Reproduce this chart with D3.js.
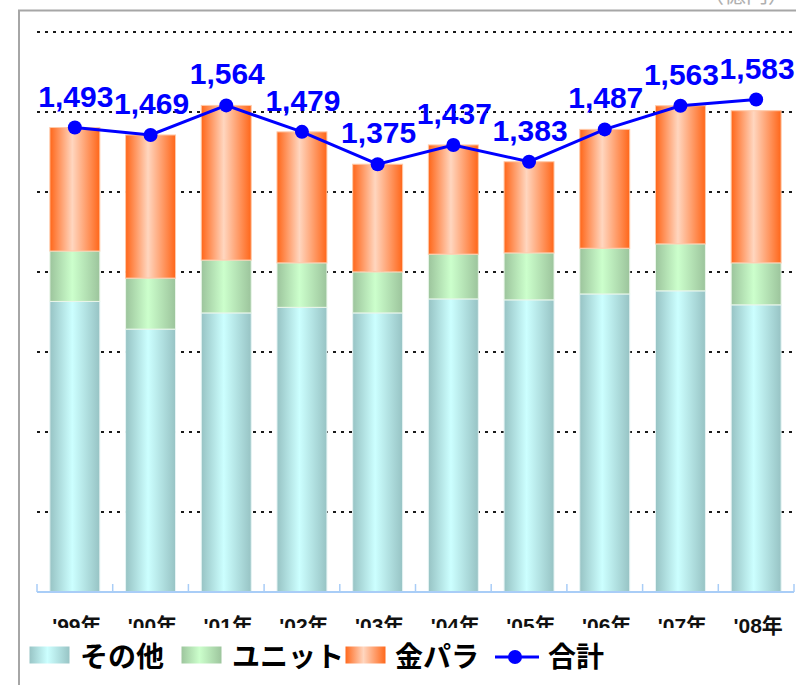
<!DOCTYPE html>
<html>
    <head>
        <meta charset="utf-8">
        <title></title>
        <style>
            body { margin: 0; background: #fff; }
            svg { display: block; }
        </style>
    </head>
    <body>
        <script src="https://cdnjs.cloudflare.com/ajax/libs/d3/7.8.5/d3.min.js" charset="utf-8"></script>
        <script>

        var categories = ["'99年", "'00年", "'01年", "'02年", "'03年", "'04年", "'05年", "'06年", "'07年", "'08年"];
        var otherValues = [934, 845, 897, 915, 897, 942, 939, 958, 968, 923];   // その他
        var unitValues  = [162, 164, 170, 143, 132, 144, 151, 147, 151, 135];   // ユニット
        var goldValues  = [397, 460, 497, 421, 346, 351, 293, 382, 444, 489];   // 金パラ
        var totalValues = [1493, 1469, 1564, 1479, 1375, 1437, 1383, 1487, 1563, 1583]; // 合計
        var seriesNames = ["その他", "ユニット", "金パラ", "合計"];

        var w = 796;
        var h = 685;
        var jp = "'Noto Sans CJK JP', sans-serif";

        var svg = d3.select("body")
                    .append("svg")
                    .attr("width", w)
                    .attr("height", h);

        // gradients for the cylinder-ish bars
        var defs = svg.append("defs");
        var grads = [
            {id: "gOther", edge: "#97c3c4", mid: "#ccffff"},
            {id: "gUnit",  edge: "#9cc49c", mid: "#ccffcc"},
            {id: "gGold",  edge: "#ff6619", mid: "#ffd6bf"}
        ];
        grads.forEach(function(g) {
            var lg = defs.append("linearGradient")
                .attr("id", g.id)
                .attr("x1", "0%").attr("x2", "100%")
                .attr("y1", "0%").attr("y2", "0%");
            lg.append("stop").attr("offset", "0%").attr("stop-color", g.edge);
            lg.append("stop").attr("offset", "45%").attr("stop-color", g.mid);
            lg.append("stop").attr("offset", "100%").attr("stop-color", g.edge);
        });

        // frame (cropped)
        svg.append("path")
            .attr("d", "M19,685 L19,10.5 L796,10.5")
            .attr("fill", "none")
            .attr("stroke", "#a6a6a6")
            .attr("stroke-width", 2);

        // unit label, mostly above the visible area like in the source
        svg.append("text")
            .attr("x", 790)
            .attr("y", 2)
            .attr("text-anchor", "end")
            .attr("font-family", jp)
            .attr("font-size", "22px")
            .attr("fill", "#b0b0b0")
            .text("（億円）");

        var xScale = d3.scaleBand()
                       .domain(categories)
                       .range([37, 794])
                       .paddingInner(0.34)
                       .paddingOuter(0.17);

        var yMax = 1800;
        var yScale = d3.scaleLinear()
                       .domain([0, yMax])
                       .range([592, 32]);

        // dotted gridlines
        var gridValues = d3.range(1, 8).map(function(i) { return yMax * i / 7; });
        svg.selectAll("line.grid")
            .data(gridValues)
            .enter()
            .append("line")
            .attr("class", "grid")
            .attr("x1", 37)
            .attr("x2", w)
            .attr("y1", function(d) { return yScale(d); })
            .attr("y2", function(d) { return yScale(d); })
            .attr("stroke", "#1a1a1a")
            .attr("stroke-width", 2)
            .attr("stroke-dasharray", "3,5");

        // stacked bars
        var stackData = categories.map(function(c, i) {
            return {cat: c, other: otherValues[i], unit: unitValues[i], gold: goldValues[i]};
        });
        var stack = d3.stack().keys(["other", "unit", "gold"]);
        var fills = {other: "url(#gOther)", unit: "url(#gUnit)", gold: "url(#gGold)"};
        var strokes = {other: "#e6f4f4", unit: "#eaf6ea", gold: "#ffc9a8"};

        svg.selectAll("g.series")
            .data(stack(stackData))
            .enter()
            .append("g")
            .attr("class", "series")
            .each(function(s) {
                d3.select(this).selectAll("rect")
                    .data(s)
                    .enter()
                    .append("rect")
                    .attr("x", function(d) { return xScale(d.data.cat); })
                    .attr("y", function(d) { return yScale(d[1]); })
                    .attr("width", xScale.bandwidth())
                    .attr("height", function(d) { return yScale(d[0]) - yScale(d[1]); })
                    .attr("fill", fills[s.key])
                    .attr("stroke", strokes[s.key])
                    .attr("stroke-width", 1);
            });

        // axis line with ticks at category boundaries
        svg.append("line")
            .attr("x1", 37).attr("x2", 794)
            .attr("y1", 592).attr("y2", 592)
            .attr("stroke", "#a9cdf7")
            .attr("stroke-width", 2);
        svg.selectAll("line.tick")
            .data(d3.range(categories.length + 1))
            .enter()
            .append("line")
            .attr("class", "tick")
            .attr("x1", function(i) { return xScale.range()[0] + i * xScale.step(); })
            .attr("x2", function(i) { return xScale.range()[0] + i * xScale.step(); })
            .attr("y1", 584).attr("y2", 592)
            .attr("stroke", "#a9cdf7")
            .attr("stroke-width", 1.5);

        // category labels
        svg.selectAll("text.cat")
            .data(categories)
            .enter()
            .append("text")
            .attr("class", "cat")
            .attr("x", function(d) { return xScale(d) + xScale.bandwidth() / 2 + 2; })
            .attr("y", 633)
            .attr("text-anchor", "middle")
            .attr("font-family", "'Liberation Sans', " + jp)
            .attr("font-weight", "bold")
            .attr("font-size", "21px")
            .attr("fill", "#111")
            .text(function(d) { return d; });

        // total line
        var line = d3.line()
            .x(function(d, i) { return xScale(categories[i]) + xScale.bandwidth() / 2; })
            .y(function(d) { return yScale(d); });

        svg.append("path")
            .datum(totalValues)
            .attr("d", line)
            .attr("fill", "none")
            .attr("stroke", "#0000ff")
            .attr("stroke-width", 3);

        svg.selectAll("circle.dot")
            .data(totalValues)
            .enter()
            .append("circle")
            .attr("class", "dot")
            .attr("cx", function(d, i) { return xScale(categories[i]) + xScale.bandwidth() / 2; })
            .attr("cy", function(d) { return yScale(d); })
            .attr("r", 7)
            .attr("fill", "#0000ff");

        svg.selectAll("text.val")
            .data(totalValues)
            .enter()
            .append("text")
            .attr("class", "val")
            .attr("x", function(d, i) { return xScale(categories[i]) + xScale.bandwidth() / 2 + 1; })
            .attr("y", function(d) { return yScale(d) - 21; })
            .attr("text-anchor", "middle")
            .attr("font-family", "'Liberation Sans', sans-serif")
            .attr("font-weight", "bold")
            .attr("font-size", "30px")
            .attr("fill", "#0000ff")
            .text(function(d) { return d3.format(",")(d); });

        // legend (white box overlapping the category labels)
        var legend = svg.append("g");
        legend.append("rect")
            .attr("x", 22).attr("y", 628)
            .attr("width", 703).attr("height", 57)
            .attr("fill", "#fff");

        var legendItems = [
            {name: seriesNames[0], fill: "url(#gOther)", sx: 29, tx: 80},
            {name: seriesNames[1], fill: "url(#gUnit)", sx: 181, tx: 232},
            {name: seriesNames[2], fill: "url(#gGold)", sx: 345, tx: 395}
        ];
        legendItems.forEach(function(it) {
            legend.append("rect")
                .attr("x", it.sx).attr("y", 646)
                .attr("width", 41).attr("height", 18)
                .attr("fill", it.fill)
                .attr("stroke", "#fff");
            legend.append("text")
                .attr("x", it.tx).attr("y", 667)
                .attr("font-family", jp)
                .attr("font-weight", "bold")
                .attr("font-size", "28px")
                .attr("fill", "#000")
                .text(it.name);
        });
        legend.append("line")
            .attr("x1", 495).attr("x2", 539)
            .attr("y1", 657).attr("y2", 657)
            .attr("stroke", "#0000ff")
            .attr("stroke-width", 3);
        legend.append("circle")
            .attr("cx", 515).attr("cy", 657).attr("r", 7)
            .attr("fill", "#0000ff");
        legend.append("text")
            .attr("x", 548).attr("y", 667)
            .attr("font-family", jp)
            .attr("font-weight", "bold")
            .attr("font-size", "28px")
            .attr("fill", "#000")
            .text(seriesNames[3]);

        </script>
    </body>
</html>
